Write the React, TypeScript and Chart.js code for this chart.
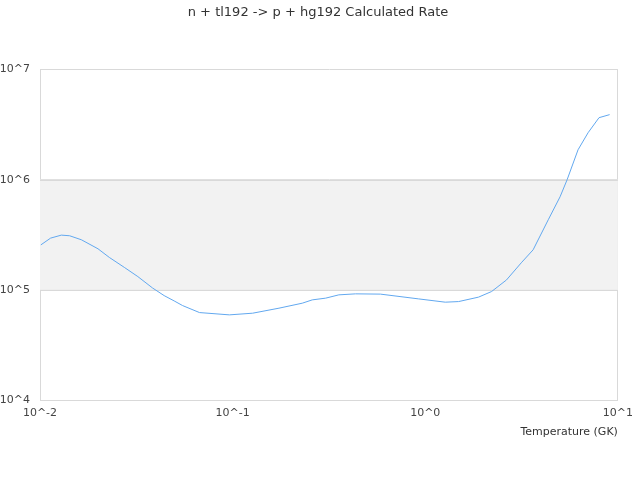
import { useEffect, useRef } from 'react'
import Chart from 'chart.js/auto'

// temperature (GK) and rate
const temperatures = [
  0.0101, 0.01135, 0.0129, 0.01425, 0.0164, 0.02, 0.0229, 0.0274, 0.0322, 0.0384,
  0.0441, 0.0497, 0.055, 0.0673, 0.0962, 0.127, 0.174, 0.23, 0.259, 0.304,
  0.356, 0.435, 0.585, 0.924, 1.27, 1.49, 1.89, 2.21, 2.64, 3.15,
  3.63, 4.35, 5.01, 5.45, 6.21, 7.0, 7.98, 9.06
]
const rates = [
  2.56e5, 2.95e5, 3.14e5, 3.1e5, 2.85e5, 2.36e5, 1.97e5, 1.6e5, 1.32e5, 1.04e5,
  8.87e4, 7.94e4, 7.2e4, 6.22e4, 5.93e4, 6.14e4, 6.82e4, 7.57e4, 8.11e4, 8.41e4,
  9.01e4, 9.2e4, 9.15e4, 8.28e4, 7.73e4, 7.83e4, 8.59e4, 9.66e4, 1.23e5, 1.76e5,
  2.31e5, 4.33e5, 7.0e5, 1.0e6, 1.87e6, 2.67e6, 3.66e6, 3.9e6
]
const xTicks = [0.01, 0.1, 1, 10]
const yTicks = [1e4, 1e5, 1e6, 1e7]
const bandRange = [1e5, 1e6]

const FONT = 'DejaVu Sans'
const GRID = '#d9d9d9'

const bandPlugin = {
  id: 'band',
  afterLayout(chart: any) {
    // title in the reference sits a little right of the full-width centre
    if (chart.titleBlock) chart.titleBlock.left = 16
  },
  beforeDatasetsDraw(chart: any) {
    const { ctx, chartArea, scales } = chart
    const yTop = scales.y.getPixelForValue(bandRange[1])
    const yBot = scales.y.getPixelForValue(bandRange[0])
    ctx.save()
    ctx.fillStyle = '#f2f2f2'
    ctx.fillRect(chartArea.left, yTop, chartArea.right - chartArea.left, yBot - yTop)
    ctx.strokeStyle = GRID
    ctx.lineWidth = 1
    ctx.beginPath()
    ctx.moveTo(chartArea.left, Math.round(yTop) + 0.5)
    ctx.lineTo(chartArea.right, Math.round(yTop) + 0.5)
    ctx.moveTo(chartArea.left, Math.round(yBot) + 0.5)
    ctx.lineTo(chartArea.right, Math.round(yBot) + 0.5)
    ctx.stroke()
    ctx.restore()
  }
}

function expLabel(v: number) {
  return '10^' + Math.round(Math.log10(v))
}

export default function App() {
  const canvasRef = useRef<HTMLCanvasElement>(null)

  useEffect(() => {
    document.body.style.margin = '0'
    if (!canvasRef.current) return
    const chart = new Chart(canvasRef.current, {
      type: 'line',
      data: {
        datasets: [
          {
            label: 'rate',
            data: temperatures.map((t, i) => ({ x: t, y: rates[i] })),
            borderColor: '#62a8ef',
            borderWidth: 1,
            pointRadius: 0,
            tension: 0,
            fill: false
          }
        ]
      },
      plugins: [bandPlugin],
      options: {
        responsive: false,
        animation: false,
        layout: { padding: { left: 0, right: 20, top: 0, bottom: 40 } },
        plugins: {
          legend: { display: false },
          tooltip: { enabled: false },
          title: {
            display: true,
            text: 'n + tl192 -> p + hg192 Calculated Rate',
            color: '#333333',
            font: { family: FONT, size: 13, weight: 'normal' },
            padding: { top: 5, bottom: 49 }
          }
        },
        scales: {
          x: {
            type: 'logarithmic',
            min: 0.01,
            max: 10,
            afterBuildTicks: (scale: any) => {
              scale.ticks = xTicks.map((v) => ({ value: v }))
            },
            afterFit: (scale: any) => {
              scale.height = 40
            },
            ticks: {
              color: '#444444',
              font: { family: FONT, size: 11 },
              padding: 7,
              maxRotation: 0,
              autoSkip: false,
              callback: (v: any) => expLabel(Number(v))
            },
            grid: {
              drawTicks: false,
              color: (c: any) =>
                c.index === 0 || c.index === xTicks.length - 1 ? GRID : 'rgba(0,0,0,0)'
            },
            border: { display: true, color: GRID },
            title: {
              display: true,
              text: 'Temperature (GK)',
              align: 'end',
              color: '#333333',
              font: { family: FONT, size: 11 },
              padding: { top: 0, bottom: 1 }
            }
          },
          y: {
            type: 'logarithmic',
            min: 1e4,
            max: 1e7,
            afterBuildTicks: (scale: any) => {
              scale.ticks = yTicks.map((v) => ({ value: v }))
            },
            afterFit: (scale: any) => {
              scale.width = 40
            },
            ticks: {
              color: '#444444',
              font: { family: FONT, size: 11 },
              padding: 10,
              autoSkip: false,
              callback: (v: any) => expLabel(Number(v))
            },
            grid: { drawTicks: false, color: GRID },
            border: { display: true, color: GRID }
          }
        }
      }
    })
    return () => chart.destroy()
  }, [])

  return (
    <div style={{ width: 640, height: 480 }}>
      <canvas ref={canvasRef} width={640} height={480}></canvas>
    </div>
  )
}
